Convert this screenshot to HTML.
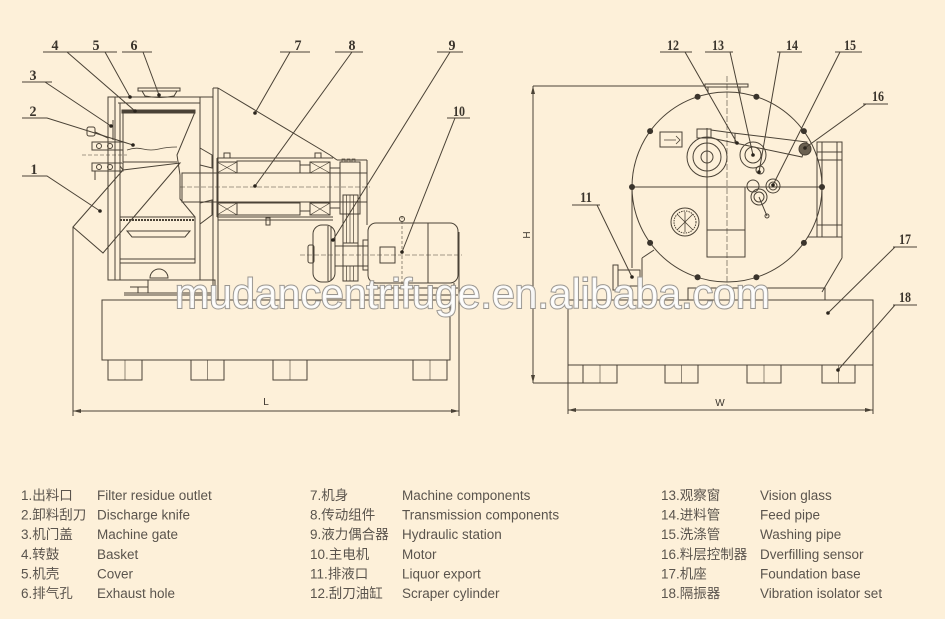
<!DOCTYPE html>
<html><head><meta charset="utf-8"><style>
html,body{margin:0;padding:0;background:#fdf0d9;}
svg{display:block;}
.lg{font-family:"Liberation Sans","Noto Sans CJK SC",sans-serif;font-size:13.5px;fill:#5a544d;}
.nm{font-family:"Liberation Serif",serif;font-weight:bold;font-size:15px;fill:#3a342c;}
</style></head><body>
<svg width="945" height="619" viewBox="0 0 945 619" xmlns="http://www.w3.org/2000/svg">
<rect width="945" height="619" fill="#fdf0d9"/>
<defs>
<marker id="ar" markerWidth="8" markerHeight="4" refX="8" refY="2" orient="auto" markerUnits="userSpaceOnUse">
<path d="M0,0 L8,2 L0,4 Z" fill="#4a4236"/></marker>
</defs>

<g stroke="#4a4236" fill="none" stroke-width="1">
<!-- ================= LEFT VIEW ================= -->
<!-- base -->
<rect x="102" y="300" width="348" height="60"/>
<line x1="124" y1="295" x2="215" y2="295"/>
<line x1="365" y1="295" x2="458" y2="295"/>
<rect x="108" y="360" width="34" height="20"/><line x1="125" y1="360" x2="125" y2="380" stroke-width="0.6"/>
<rect x="191" y="360" width="33" height="20"/><line x1="207.5" y1="360" x2="207.5" y2="380" stroke-width="0.6"/>
<rect x="273" y="360" width="34" height="20"/><line x1="290" y1="360" x2="290" y2="380" stroke-width="0.6"/>
<rect x="413" y="360" width="34" height="20"/><line x1="430" y1="360" x2="430" y2="380" stroke-width="0.6"/>
<!-- dimension L -->
<line x1="73" y1="227" x2="73" y2="416"/>
<line x1="459" y1="232" x2="459" y2="416"/>
<line x1="81" y1="411" x2="451" y2="411"/>
<line x1="451" y1="411" x2="459" y2="411" marker-end="url(#ar)"/>
<line x1="81" y1="411" x2="73" y2="411" marker-end="url(#ar)"/>

<!-- housing / cover -->
<rect x="108" y="97" width="7" height="183"/>
<line x1="108" y1="97" x2="213" y2="97"/>
<line x1="118" y1="103" x2="200" y2="103"/>
<line x1="120" y1="103" x2="120" y2="280"/>
<line x1="200" y1="97" x2="200" y2="280"/>
<line x1="108" y1="280" x2="213" y2="280"/>
<rect x="148" y="280" width="67" height="13"/>
<path d="M150 278 A9 9 0 0 1 168 278 Z"/>
<line x1="124" y1="293" x2="148" y2="293"/>
<line x1="138" y1="287" x2="138" y2="293"/>
<line x1="130" y1="287" x2="148" y2="287"/>
<!-- exhaust hole -->
<rect x="138" y="88" width="42" height="3"/>
<path d="M142 91 L177 91 L174 96 Q160 99 145 96 Z"/>
<!-- basket -->
<rect x="122" y="110" width="73" height="3" fill="#4a4236"/>
<line x1="123" y1="113" x2="123" y2="162"/>
<line x1="123" y1="162" x2="177" y2="162"/>
<polyline points="195,112 177,155 180,175 180,199 195,217"/>
<path d="M127 150 q8 -3 16 -1 t16 0 t18 -2" stroke-width="0.8"/>
<rect x="120" y="217" width="75" height="46"/>
<line x1="120" y1="220" x2="195" y2="220" stroke-dasharray="2 1" stroke-width="2"/>
<polygon points="127,231 190,231 185,237 132,237"/>
<line x1="120" y1="259" x2="195" y2="259"/>
<polygon points="200,148 212,155 212,168 200,165"/>
<polygon points="200,203 212,200 212,215 200,224"/>
<!-- knife / gate -->
<rect x="92" y="142" width="31" height="8"/>
<circle cx="99" cy="146" r="2.5"/><circle cx="110" cy="146" r="2.5"/>
<rect x="92" y="163" width="31" height="8"/>
<circle cx="99" cy="167" r="2.5"/><circle cx="110" cy="167" r="2.5"/>
<line x1="82" y1="155" x2="127" y2="155" stroke-dasharray="4 2" stroke-width="0.6"/>
<rect x="87" y="127" width="8" height="9" rx="2"/>
<line x1="95" y1="132" x2="108" y2="138"/>
<line x1="113" y1="120" x2="113" y2="140"/>
<line x1="95" y1="171" x2="95" y2="180"/>
<!-- chute -->
<polygon points="73,227 103,253 180,163 123,170"/>
<line x1="123" y1="170" x2="120" y2="166"/>

<!-- frame (7) -->
<line x1="213" y1="88" x2="213" y2="300"/>
<line x1="218" y1="88" x2="218" y2="300"/>
<line x1="213" y1="88" x2="218" y2="88"/>
<line x1="218" y1="88" x2="330" y2="155"/>
<line x1="330" y1="155" x2="337" y2="160"/>
<line x1="337" y1="160" x2="367" y2="160"/>
<line x1="367" y1="160" x2="367" y2="225"/>
<line x1="218" y1="220" x2="333" y2="220"/>
<!-- shaft & bearings (8) -->
<rect x="182" y="173" width="185" height="29"/>
<line x1="180" y1="187" x2="370" y2="187" stroke-dasharray="5 2" stroke-width="0.6"/>
<line x1="217" y1="158" x2="333" y2="158"/>
<line x1="217" y1="217" x2="333" y2="217"/>
<line x1="217" y1="158" x2="217" y2="217"/>
<rect x="237" y="161" width="63" height="12"/>
<rect x="237" y="203" width="63" height="12"/>
<rect x="217" y="162" width="20" height="11"/><path d="M217 162 L237 173 M237 162 L217 173" stroke-width="0.7"/>
<rect x="217" y="203" width="20" height="12"/><path d="M217 203 L237 215 M237 203 L217 215" stroke-width="0.7"/>
<rect x="310" y="162" width="20" height="11"/><path d="M310 162 L330 173 M330 162 L310 173" stroke-width="0.7"/>
<rect x="310" y="203" width="20" height="12"/><path d="M310 203 L330 215 M330 203 L310 215" stroke-width="0.7"/>
<line x1="300" y1="165" x2="310" y2="165"/><line x1="300" y1="211" x2="310" y2="211"/>
<rect x="330" y="168" width="10" height="40"/>
<rect x="340" y="162" width="20" height="52"/>
<path d="M342 162 v-3 h3 v3 M347 162 v-3 h3 v3 M352 162 v-3 h3 v3" stroke-width="0.7"/>
<rect x="224" y="153" width="6" height="5"/>
<rect x="315" y="153" width="6" height="5"/>
<rect x="266" y="218" width="4" height="7"/>
<!-- coupling (9) -->
<rect x="343" y="195" width="15" height="48"/>
<path d="M346.5 195 v48 M350 195 v48 M353.5 195 v48" stroke-width="0.7"/>
<rect x="313" y="225" width="22" height="57" rx="9"/>
<line x1="328" y1="226" x2="328" y2="281"/><line x1="331" y1="227" x2="331" y2="280"/>
<rect x="308" y="245" width="6" height="18" rx="2"/>
<rect x="335" y="246" width="33" height="20"/>
<rect x="343" y="243" width="15" height="38"/>
<path d="M346.5 266 v15 M350 266 v15 M353.5 266 v15" stroke-width="0.7"/>
<line x1="300" y1="255" x2="462" y2="255" stroke-dasharray="5 2" stroke-width="0.6"/>
<!-- motor (10) -->
<rect x="368" y="223" width="90" height="60" rx="8"/>
<line x1="428" y1="223" x2="428" y2="283"/>
<rect x="380" y="247" width="15" height="16"/>
<line x1="402" y1="216" x2="402" y2="290" stroke-dasharray="3 2" stroke-width="0.6"/>
<circle cx="402" cy="219" r="2.5"/>
<rect x="363" y="240" width="5" height="30"/>
<line x1="368" y1="288" x2="458" y2="288"/>
<line x1="372" y1="283" x2="372" y2="295"/><line x1="454" y1="283" x2="454" y2="295"/>

<!-- leaders left -->
<path d="M43 52 H98 M67 52 L135 111"/>
<path d="M83 52 H117 M105 52 L130 97"/>
<path d="M122 52 H152 M143 52 L159 95"/>
<path d="M280 52 H310 M290 52 L255 113"/>
<path d="M335 52 H363 M352 52 L255 186"/>
<path d="M437 52 H463 M450 52 L333 240"/>
<path d="M447 118 H470 M455 118 L402 252"/>
<path d="M22 82 H52 M45 82 L111 126"/>
<path d="M22 118 H47 L133 145"/>
<path d="M22 176 H47 L100 211"/>

<!-- ================= RIGHT VIEW ================= -->
<circle cx="727" cy="187" r="95"/>
<line x1="727" y1="76" x2="727" y2="285" stroke-dasharray="6 2" stroke-width="0.6"/>
<line x1="632" y1="187" x2="822" y2="187"/>
<!-- feed pipe top -->
<rect x="705" y="84" width="43" height="3"/>
<line x1="708" y1="87" x2="708" y2="93"/><line x1="740" y1="87" x2="740" y2="93"/>
<line x1="533" y1="86" x2="705" y2="86"/>
<!-- scraper pulley -->
<circle cx="707" cy="157" r="20"/>
<circle cx="707" cy="157" r="14"/>
<circle cx="707" cy="157" r="6"/>
<rect x="697" y="129" width="14" height="9"/>
<line x1="707" y1="128" x2="707" y2="187"/>
<!-- tall rect -->
<rect x="707" y="187" width="38" height="70"/>
<line x1="707" y1="230" x2="745" y2="230"/>
<!-- arm -->
<polygon points="711,130 733,133 807,142 802,157 735,143 711,138"/>
<line x1="735" y1="133" x2="735" y2="143"/>
<circle cx="805" cy="149" r="6" fill="#6a6050"/>
<!-- gears -->
<circle cx="753" cy="155" r="13"/><circle cx="753" cy="155" r="8"/>
<circle cx="760" cy="170" r="4"/>
<circle cx="753" cy="186" r="6"/>
<circle cx="773" cy="186" r="7"/><circle cx="773" cy="186" r="4"/>
<circle cx="759" cy="197" r="8"/><circle cx="759" cy="197" r="5"/>
<line x1="759" y1="197" x2="767" y2="216"/>
<circle cx="767" cy="216" r="2"/>
<!-- vision glass box -->
<rect x="660" y="132" width="22" height="15"/>
<path d="M664 140 h12 M676 136 l4 4 l-4 4" stroke-width="0.8"/>
<!-- dial -->
<circle cx="685" cy="222" r="14"/>
<circle cx="685" cy="222" r="11" stroke-dasharray="1.5 1"/>
<path d="M677 214 L693 230 M693 214 L677 230 M685 212 V232" stroke-width="0.8"/>
<!-- liquor export -->
<line x1="632" y1="187" x2="632" y2="268"/>
<line x1="654" y1="250" x2="642" y2="258"/>
<line x1="642" y1="258" x2="642" y2="278"/>
<rect x="613" y="265" width="5" height="25"/>
<rect x="618" y="270" width="22" height="16"/>
<!-- right column -->
<rect x="817" y="142" width="25" height="95"/>
<line x1="822" y1="142" x2="822" y2="237"/><line x1="837" y1="142" x2="837" y2="237"/>
<line x1="817" y1="152" x2="842" y2="152"/><line x1="817" y1="160" x2="842" y2="160"/>
<line x1="817" y1="225" x2="842" y2="225"/>
<line x1="808" y1="237" x2="842" y2="237"/>
<line x1="842" y1="237" x2="842" y2="258"/>
<line x1="842" y1="258" x2="822" y2="292"/>
<!-- pedestal & base -->
<rect x="688" y="288" width="137" height="12"/>
<rect x="568" y="300" width="305" height="65"/>
<rect x="583" y="365" width="34" height="18"/><line x1="600" y1="365" x2="600" y2="383" stroke-width="0.6"/>
<rect x="665" y="365" width="33" height="18"/><line x1="681.5" y1="365" x2="681.5" y2="383" stroke-width="0.6"/>
<rect x="747" y="365" width="34" height="18"/><line x1="764" y1="365" x2="764" y2="383" stroke-width="0.6"/>
<rect x="822" y="365" width="33" height="18"/><line x1="838.5" y1="365" x2="838.5" y2="383" stroke-width="0.6"/>
<!-- H dim -->
<line x1="533" y1="94" x2="533" y2="375"/>
<line x1="533" y1="94" x2="533" y2="86" marker-end="url(#ar)"/>
<line x1="533" y1="375" x2="533" y2="383" marker-end="url(#ar)"/>
<line x1="533" y1="383" x2="583" y2="383"/>
<!-- W dim -->
<line x1="568" y1="365" x2="568" y2="414"/>
<line x1="873" y1="365" x2="873" y2="414"/>
<line x1="576" y1="410" x2="865" y2="410"/>
<line x1="576" y1="410" x2="568" y2="410" marker-end="url(#ar)"/>
<line x1="865" y1="410" x2="873" y2="410" marker-end="url(#ar)"/>

<!-- leaders right -->
<path d="M660 52 H692 M685 52 L737 143"/>
<path d="M705 52 H733 M730 52 L753 155"/>
<path d="M777 52 H802 M780 52 L759 172"/>
<path d="M835 52 H862 M840 52 L773 185"/>
<path d="M863 104 H888 M866 104 L805 148"/>
<path d="M572 205 H600 M597 205 L632 277"/>
<path d="M893 247 H917 M895 247 L828 313"/>
<path d="M893 305 H917 M895 305 L838 370"/>
</g>

<!-- bolts -->
<g fill="#3a342c">
<circle cx="756.4" cy="96.7" r="3"/><circle cx="803.9" cy="131.1" r="3"/><circle cx="822" cy="187" r="3"/>
<circle cx="803.9" cy="242.9" r="3"/><circle cx="756.4" cy="277.3" r="3"/><circle cx="697.6" cy="277.3" r="3"/>
<circle cx="650.1" cy="242.9" r="3"/><circle cx="632" cy="187" r="3"/><circle cx="650.1" cy="131.1" r="3"/>
<circle cx="697.6" cy="96.7" r="3"/>
</g>
<!-- leader dots -->
<g fill="#2a241c">
<circle cx="135" cy="111" r="1.8"/><circle cx="130" cy="97" r="1.8"/><circle cx="159" cy="95" r="1.8"/>
<circle cx="111" cy="126" r="1.8"/><circle cx="133" cy="145" r="1.8"/><circle cx="100" cy="211" r="1.8"/>
<circle cx="255" cy="113" r="1.8"/><circle cx="255" cy="186" r="1.8"/><circle cx="333" cy="240" r="1.8"/>
<circle cx="402" cy="252" r="1.8"/>
<circle cx="737" cy="143" r="1.8"/><circle cx="753" cy="155" r="1.8"/><circle cx="759" cy="172" r="1.8"/>
<circle cx="773" cy="185" r="1.8"/><circle cx="805" cy="148" r="1.8"/><circle cx="632" cy="277" r="1.8"/>
<circle cx="828" cy="313" r="1.8"/><circle cx="838" cy="370" r="1.8"/>
</g>

<!-- number labels -->
<g class="nm" text-anchor="middle">
<text x="55" y="50" textLength="7" lengthAdjust="spacingAndGlyphs">4</text>
<text x="96" y="50" textLength="7" lengthAdjust="spacingAndGlyphs">5</text>
<text x="134" y="50" textLength="7" lengthAdjust="spacingAndGlyphs">6</text>
<text x="298" y="50" textLength="7" lengthAdjust="spacingAndGlyphs">7</text>
<text x="352" y="50" textLength="7" lengthAdjust="spacingAndGlyphs">8</text>
<text x="452" y="50" textLength="7" lengthAdjust="spacingAndGlyphs">9</text>
<text x="459" y="116" textLength="12" lengthAdjust="spacingAndGlyphs">10</text>
<text x="33" y="80" textLength="7" lengthAdjust="spacingAndGlyphs">3</text>
<text x="33" y="116" textLength="7" lengthAdjust="spacingAndGlyphs">2</text>
<text x="34" y="174" textLength="7" lengthAdjust="spacingAndGlyphs">1</text>
<text x="673" y="50" textLength="12" lengthAdjust="spacingAndGlyphs">12</text>
<text x="718" y="50" textLength="12" lengthAdjust="spacingAndGlyphs">13</text>
<text x="792" y="50" textLength="12" lengthAdjust="spacingAndGlyphs">14</text>
<text x="850" y="50" textLength="12" lengthAdjust="spacingAndGlyphs">15</text>
<text x="878" y="101" textLength="12" lengthAdjust="spacingAndGlyphs">16</text>
<text x="586" y="202" textLength="12" lengthAdjust="spacingAndGlyphs">11</text>
<text x="905" y="244" textLength="12" lengthAdjust="spacingAndGlyphs">17</text>
<text x="905" y="302" textLength="12" lengthAdjust="spacingAndGlyphs">18</text>
</g>
<g font-family="Liberation Sans, sans-serif" font-size="10" fill="#3a342c" text-anchor="middle">
<text x="266" y="405">L</text>
<text x="720" y="406">W</text>
<text x="0" y="0" transform="translate(530,235) rotate(-90)">H</text>
</g>

<!-- watermark -->
<text x="175" y="308" font-family="Liberation Sans, sans-serif" font-size="42" textLength="595" lengthAdjust="spacingAndGlyphs" fill="#ffffff" fill-opacity="0.92" stroke="#9a9690" stroke-width="2" paint-order="stroke">mudancentrifuge.en.alibaba.com</text>

<!-- legend -->
<g class="lg">
<text x="21" y="500">1.出料口</text><text x="97" y="500">Filter residue outlet</text>
<text x="21" y="519.6">2.卸料刮刀</text><text x="97" y="519.6">Discharge knife</text>
<text x="21" y="539.2">3.机门盖</text><text x="97" y="539.2">Machine gate</text>
<text x="21" y="558.8">4.转鼓</text><text x="97" y="558.8">Basket</text>
<text x="21" y="578.4">5.机壳</text><text x="97" y="578.4">Cover</text>
<text x="21" y="598">6.排气孔</text><text x="97" y="598">Exhaust hole</text>

<text x="310" y="500">7.机身</text><text x="402" y="500">Machine components</text>
<text x="310" y="519.6">8.传动组件</text><text x="402" y="519.6">Transmission components</text>
<text x="310" y="539.2">9.液力偶合器</text><text x="402" y="539.2">Hydraulic station</text>
<text x="310" y="558.8">10.主电机</text><text x="402" y="558.8">Motor</text>
<text x="310" y="578.4">11.排液口</text><text x="402" y="578.4">Liquor export</text>
<text x="310" y="598">12.刮刀油缸</text><text x="402" y="598">Scraper cylinder</text>

<text x="661" y="500">13.观察窗</text><text x="760" y="500">Vision glass</text>
<text x="661" y="519.6">14.进料管</text><text x="760" y="519.6">Feed pipe</text>
<text x="661" y="539.2">15.洗涤管</text><text x="760" y="539.2">Washing pipe</text>
<text x="661" y="558.8">16.料层控制器</text><text x="760" y="558.8">Dverfilling sensor</text>
<text x="661" y="578.4">17.机座</text><text x="760" y="578.4">Foundation base</text>
<text x="661" y="598">18.隔振器</text><text x="760" y="598">Vibration isolator set</text>
</g>
</svg>
</body></html>
